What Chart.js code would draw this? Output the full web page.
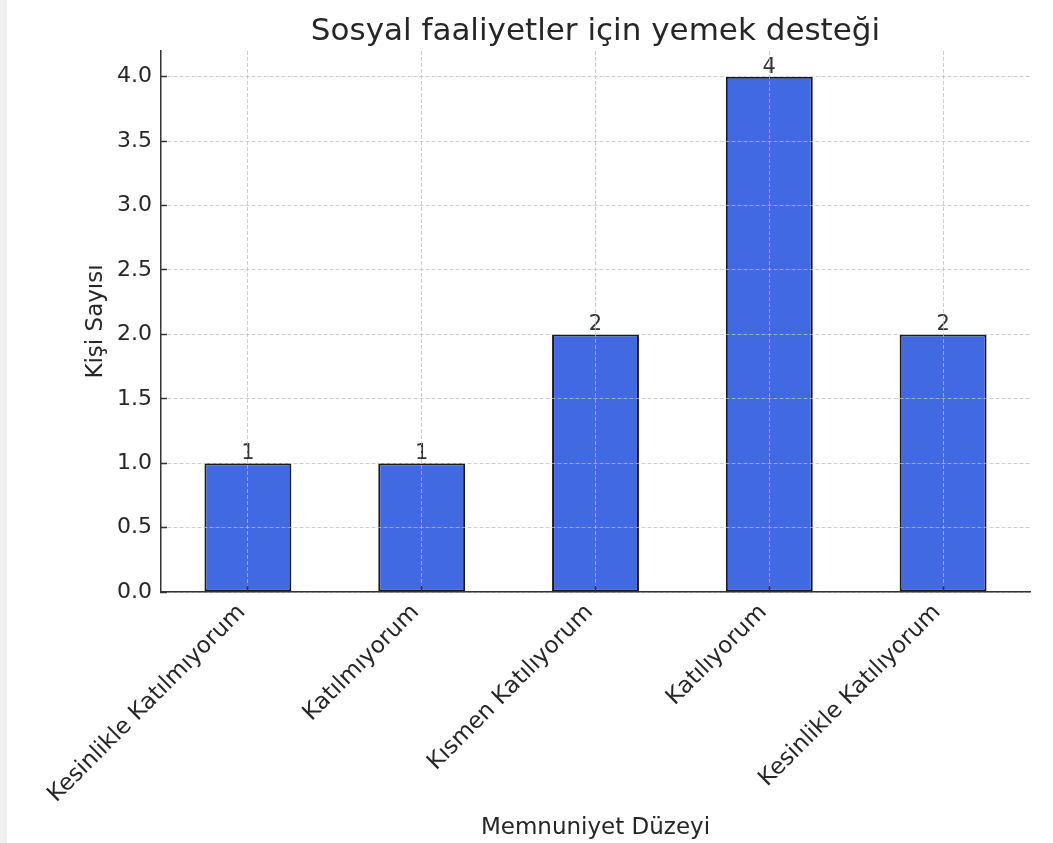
<!DOCTYPE html>
<html>
<head>
<meta charset="utf-8">
<script src="https://cdn.jsdelivr.net/npm/chart.js@4/dist/chart.umd.min.js"></script>
<style>
  body { margin: 0; background: #fff; }
  #strip { position: absolute; left: 0; top: 0; width: 7px; height: 843px; background: #f0f0f0; }
  #chart { position: absolute; left: 0; top: 0; }
</style>
</head>
<body>
<div id="strip"></div>
<canvas id="chart" width="1053" height="843"></canvas>
<script>
// Memnuniyet düzeyleri ve kişi sayıları
const categories = ['Kesinlikle Katılmıyorum', 'Katılmıyorum', 'Kısmen Katılıyorum', 'Katılıyorum', 'Kesinlikle Katılıyorum'];
const counts = [1, 1, 2, 4, 2];
const yTicks = [0, 0.5, 1, 1.5, 2, 2.5, 3, 3.5, 4];

const chartTitle = 'Sosyal faaliyetler için yemek desteği';
const xTitle = 'Memnuniyet Düzeyi';
const yTitle = 'Kişi Sayısı';

Chart.defaults.font.family = '"DejaVu Sans", sans-serif';
Chart.defaults.color = '#262626';

// titre au-dessus de la zone du graphe
const titlePlugin = {
    id: 'titlePlugin',
    afterDraw(chart) {
        const ctx = chart.ctx;
        const area = chart.chartArea;
        ctx.save();
        ctx.font = '31px "DejaVu Sans"';
        ctx.fillStyle = '#262626';
        ctx.textAlign = 'center';
        ctx.textBaseline = 'alphabetic';
        ctx.fillText(chartTitle, (area.left + area.right) / 2, 40);
        ctx.restore();
    }
};

// valeurs au-dessus des barres
const barLabels = {
    id: 'barLabels',
    afterDatasetsDraw(chart) {
        const ctx = chart.ctx;
        const meta = chart.getDatasetMeta(0);
        ctx.save();
        ctx.font = '21px "DejaVu Sans"';
        ctx.fillStyle = '#333';
        ctx.textAlign = 'center';
        ctx.textBaseline = 'alphabetic';
        meta.data.forEach((bar, i) => {
            ctx.fillText(String(counts[i]), bar.x, bar.y - 4);
        });
        ctx.restore();
    }
};

// ticks vers l'intérieur (tickLength négatif), grille au-dessus des barres
const gridStyle = {
    color: 'rgba(190,190,190,0.75)',
    lineWidth: 1,
    z: 1,
    drawTicks: true,
    tickLength: -6,
    tickColor: '#333',
    tickWidth: 1.5
};

new Chart(document.getElementById('chart'), {
    type: 'bar',
    data: {
        labels: categories,
        datasets: [{
            data: counts,
            backgroundColor: '#4169E1',
            borderColor: '#1a1a1a',
            borderWidth: 2,
            borderSkipped: false,
            barPercentage: 0.5,
            categoryPercentage: 1.0
        }]
    },
    options: {
        responsive: false,
        animation: false,
        devicePixelRatio: 1,
        layout: { padding: { left: 0, right: 23, top: 51, bottom: 0 } },
        plugins: {
            legend: { display: false },
            tooltip: { enabled: false }
        },
        scales: {
            x: {
                offset: true,
                grid: Object.assign({}, gridStyle, { offset: false }),
                border: { display: true, color: '#333', width: 1.5, dash: [4, 2], z: 2 },
                ticks: {
                    autoSkip: false,
                    maxRotation: 45,
                    minRotation: 45,
                    padding: 13,
                    labelOffset: -6,
                    font: { size: 23 },
                    color: '#262626',
                    z: 2
                },
                title: {
                    display: true,
                    text: xTitle,
                    font: { size: 23 },
                    color: '#262626',
                    padding: { top: 0, bottom: 1 }
                },
                afterFit: s => { s.height = 251; }
            },
            y: {
                min: 0,
                max: 4.2,
                afterBuildTicks: s => { s.ticks = yTicks.map(v => ({ value: v })); },
                grid: gridStyle,
                border: { display: true, color: '#333', width: 1.5, dash: [4, 2], z: 2 },
                ticks: {
                    padding: 15,
                    font: { size: 22 },
                    color: '#262626',
                    z: 2,
                    callback: v => Number(v).toFixed(1)
                },
                title: {
                    display: true,
                    text: yTitle,
                    font: { size: 23 },
                    color: '#262626',
                    padding: { top: 82, bottom: 0 }
                },
                afterFit: s => { s.width = 161; }
            }
        }
    },
    plugins: [titlePlugin, barLabels]
});
</script>
</body>
</html>
